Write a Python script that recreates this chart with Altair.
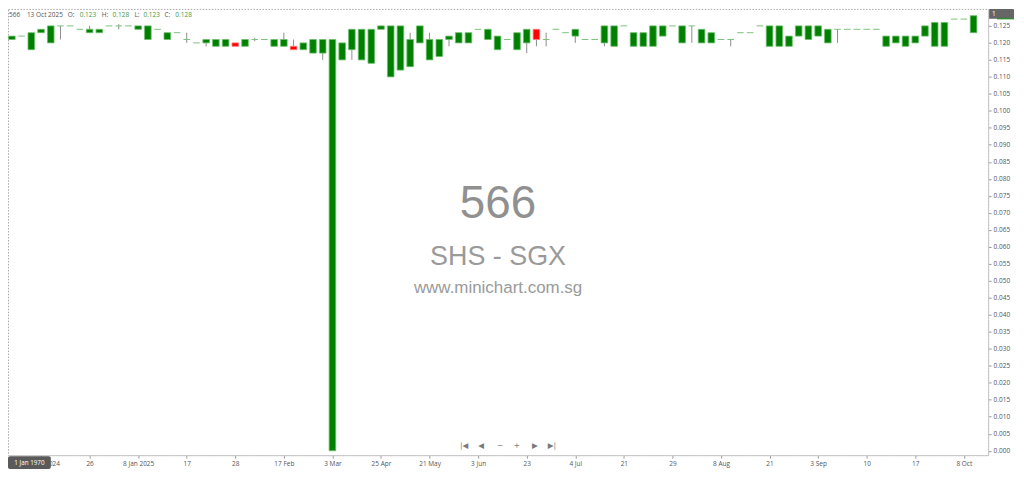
import json
import altair as alt
import pandas as pd

# ---------------- data ----------------
tick_index = list(range(3, 100, 5))
tick_labels = ["16 Dec 2024", "26", "8 Jan 2025", "17", "28", "17 Feb", "3 Mar",
               "25 Apr", "21 May", "3 Jun", "23", "4 Jul", "21", "29", "8 Aug",
               "21", "3 Sep", "10", "17", "8 Oct"]

opens = [0.121, 0.122, 0.118, 0.123, 0.120, 0.125, 0.125, 0.124, 0.123, 0.123,
         0.125, 0.125, 0.125, 0.124, 0.121, 0.124, 0.121, 0.123, 0.121, 0.120,
         0.120, 0.119, 0.119, 0.120, 0.119, 0.121, 0.121, 0.119, 0.119, 0.119,
         0.118, 0.117, 0.117, 0.000, 0.115, 0.118, 0.115, 0.114, 0.124, 0.110,
         0.112, 0.113, 0.120, 0.115, 0.116, 0.121, 0.120, 0.120, 0.124, 0.121,
         0.118, 0.121, 0.118, 0.120, 0.124, 0.121, 0.124, 0.123, 0.122, 0.121,
         0.121, 0.120, 0.119, 0.125, 0.119, 0.119, 0.119, 0.122, 0.125, 0.120,
         0.125, 0.120, 0.120, 0.121, 0.121, 0.123, 0.123, 0.125, 0.119, 0.119,
         0.119, 0.122, 0.121, 0.122, 0.120, 0.124, 0.124, 0.124, 0.124, 0.124,
         0.119, 0.120, 0.119, 0.120, 0.122, 0.119, 0.119, 0.127, 0.127, 0.123]
highs = [0.122, 0.122, 0.123, 0.124, 0.125, 0.125, 0.125, 0.124, 0.125, 0.124,
         0.125, 0.1255, 0.125, 0.125, 0.125, 0.124, 0.123, 0.123, 0.123, 0.120,
         0.121, 0.121, 0.121, 0.120, 0.121, 0.1215, 0.121, 0.121, 0.123, 0.121,
         0.120, 0.121, 0.121, 0.121, 0.120, 0.124, 0.124, 0.124, 0.125, 0.125,
         0.125, 0.123, 0.125, 0.123, 0.121, 0.122, 0.123, 0.123, 0.124, 0.124,
         0.122, 0.121, 0.123, 0.124, 0.124, 0.123, 0.124, 0.123, 0.124, 0.121,
         0.121, 0.125, 0.125, 0.125, 0.123, 0.123, 0.125, 0.125, 0.125, 0.125,
         0.125, 0.124, 0.123, 0.121, 0.121, 0.123, 0.123, 0.125, 0.125, 0.125,
         0.122, 0.125, 0.125, 0.125, 0.124, 0.124, 0.124, 0.124, 0.124, 0.124,
         0.122, 0.122, 0.122, 0.122, 0.125, 0.126, 0.126, 0.127, 0.127, 0.128]
lows = [0.121, 0.122, 0.118, 0.123, 0.120, 0.121, 0.125, 0.124, 0.123, 0.123,
        0.125, 0.124, 0.125, 0.124, 0.121, 0.124, 0.121, 0.123, 0.120, 0.120,
        0.119, 0.119, 0.119, 0.119, 0.119, 0.1205, 0.121, 0.119, 0.119, 0.118,
        0.118, 0.117, 0.115, 0.000, 0.115, 0.115, 0.115, 0.114, 0.124, 0.110,
        0.112, 0.113, 0.120, 0.115, 0.116, 0.119, 0.120, 0.120, 0.124, 0.121,
        0.118, 0.121, 0.118, 0.117, 0.119, 0.119, 0.124, 0.123, 0.120, 0.121,
        0.121, 0.119, 0.119, 0.125, 0.119, 0.119, 0.119, 0.122, 0.125, 0.120,
        0.120, 0.120, 0.120, 0.121, 0.119, 0.123, 0.123, 0.125, 0.119, 0.119,
        0.119, 0.122, 0.121, 0.122, 0.120, 0.120, 0.124, 0.124, 0.124, 0.124,
        0.119, 0.120, 0.119, 0.120, 0.122, 0.119, 0.119, 0.127, 0.127, 0.123]
closes = [0.122, 0.122, 0.123, 0.124, 0.125, 0.125, 0.125, 0.124, 0.124, 0.124,
          0.125, 0.125, 0.125, 0.125, 0.125, 0.124, 0.123, 0.123, 0.121, 0.120,
          0.121, 0.121, 0.121, 0.119, 0.121, 0.121, 0.121, 0.121, 0.121, 0.118,
          0.120, 0.121, 0.121, 0.121, 0.120, 0.124, 0.124, 0.124, 0.125, 0.125,
          0.125, 0.121, 0.125, 0.121, 0.121, 0.122, 0.123, 0.123, 0.124, 0.124,
          0.122, 0.121, 0.123, 0.124, 0.121, 0.121, 0.124, 0.123, 0.124, 0.121,
          0.121, 0.125, 0.125, 0.125, 0.123, 0.123, 0.125, 0.125, 0.125, 0.125,
          0.125, 0.124, 0.123, 0.121, 0.121, 0.123, 0.123, 0.125, 0.125, 0.125,
          0.122, 0.125, 0.125, 0.125, 0.124, 0.124, 0.124, 0.124, 0.124, 0.124,
          0.122, 0.122, 0.122, 0.122, 0.125, 0.126, 0.126, 0.127, 0.127, 0.128]

y_ticks = [round(k * 0.005, 3) for k in range(26)]

df = pd.DataFrame({"i": list(range(len(opens))), "open": opens, "high": highs,
                   "low": lows, "close": closes})

# ---------------- layout / style ----------------
W, H = 984, 448
FONT = "Open Sans"
WM_FONT = "Liberation Sans"
UP, UP_EDGE = "#008000", "#6abf6a"
DOWN, DOWN_EDGE = "#ff0000", "#ff7a7a"
DOJI = "#7cc47c"
WICK = "#8c8c8c"
VAL_GREEN = "#3c9a3c"
TXT = "#555555"

xscale = alt.Scale(domain=[-0.4, 100.5], nice=False, zero=False)
yscale = alt.Scale(domain=[-0.0013, 0.1300], nice=False, zero=False)

label_expr = json.dumps(tick_labels) + "[round((datum.value - 3) / 5)]"
xaxis = alt.Axis(values=tick_index, labelExpr=label_expr, title=None, grid=False,
                 orient="bottom", labelOverlap=False, labelFlush=False,
                 tickSize=3, labelPadding=2)
yaxis = alt.Axis(values=y_ticks, format=".3f", title=None, grid=False,
                 orient="right", labelOverlap=False, labelFlush=False,
                 tickSize=3, labelPadding=2)

base = alt.Chart(df).transform_calculate(
    xl="datum.i - 0.34", xr="datum.i + 0.34",
    blo="min(datum.open, datum.close)", bhi="max(datum.open, datum.close)")

wicks = base.transform_filter("datum.high > datum.low").mark_rule(
    color=WICK, strokeWidth=1).encode(
    x=alt.X("i:Q", scale=xscale, axis=xaxis),
    y=alt.Y("low:Q", scale=yscale, axis=yaxis),
    y2="high:Q")

bodies = base.transform_filter("datum.open != datum.close").mark_rect(
    strokeWidth=0.8).encode(
    x=alt.X("xl:Q", scale=xscale, axis=xaxis),
    x2="xr:Q",
    y=alt.Y("blo:Q", scale=yscale, axis=yaxis),
    y2="bhi:Q",
    fill=alt.condition("datum.close > datum.open", alt.value(UP), alt.value(DOWN)),
    stroke=alt.condition("datum.close > datum.open", alt.value(UP_EDGE), alt.value(DOWN_EDGE)))

dojis = base.transform_filter("datum.open == datum.close").mark_rule(
    color=DOJI, strokeWidth=1).encode(
    x=alt.X("xl:Q", scale=xscale, axis=xaxis),
    x2="xr:Q",
    y=alt.Y("close:Q", scale=yscale, axis=yaxis))


def label(text, x, y, size, color, align="left", font=FONT, weight="normal"):
    return alt.Chart(pd.DataFrame({"t": [text]})).mark_text(
        align=align, baseline="middle", fontSize=size, color=color, font=font,
        fontWeight=weight).encode(x=alt.value(x), y=alt.value(y), text="t:N")


def box(x1, x2, y1, y2, color, radius=0):
    return alt.Chart(pd.DataFrame({"t": [0]})).mark_rect(
        color=color, cornerRadius=radius).encode(
        x=alt.value(x1), x2=alt.value(x2), y=alt.value(y1), y2=alt.value(y2))


# watermark
watermark = [
    label("566", W / 2, 196, 46, "#909090", align="center", font=WM_FONT),
    label("SHS - SGX", W / 2, 249, 27, "#9a9a9a", align="center", font=WM_FONT),
    label("www.minichart.com.sg", W / 2, 280, 17, "#9a9a9a", align="center", font=WM_FONT),
]

# header (last bar)
last = len(opens) - 1
header_parts = [
    ("566", 1, TXT), ("13 Oct 2025", 19, TXT),
    ("O:", 60, TXT), (f"{opens[last]:.3f}", 72, VAL_GREEN),
    ("H:", 94, TXT), (f"{highs[last]:.3f}", 105, VAL_GREEN),
    ("L:", 127, TXT), (f"{lows[last]:.3f}", 136, VAL_GREEN),
    ("C:", 157, TXT), (f"{closes[last]:.3f}", 168, VAL_GREEN),
]
header = [label(t, x, 6, 6.5, c) for t, x, c in header_parts]

# navigation controls
nav_parts = [("|◀", 458), ("◀", 475), ("−", 494), ("+", 511), ("▶", 529), ("▶|", 546)]
nav = [label(t, x, H - 9, 7.5, "#7a7a7a", align="center", font="DejaVu Sans")
       for t, x in nav_parts]

# boxes
date_box = [box(0, 43, H + 1, H + 14, "#5a5a5a", 2),
            label("1 Jan 1970", 21.5, H + 7.5, 6.3, "#ffffff", align="center")]
price_box = [box(W + 1, W + 26, 0, 10, "#666666", 1),
             box(W + 9, W + 26, 9, 10.5, "#2e8b2e"),
             label("1", W + 4, 5, 6.5, "#ffffff")]

chart = alt.layer(*watermark, wicks, bodies, dojis, *header, *nav,
                  *date_box, *price_box).properties(
    width=W, height=H, padding={"left": 0, "top": 0, "right": 2, "bottom": 0},
    background="#ffffff"
).configure_view(
    stroke="#a8a8a8", strokeDash=[1.5, 1.5], strokeWidth=1
).configure_axis(
    domainColor="#c8c8c8", tickColor="#9a9a9a", labelColor=TXT,
    labelFont=FONT, labelFontSize=6.5, zindex=0
)

chart.save("out.html", embed_options={"renderer": "svg", "actions": False})
